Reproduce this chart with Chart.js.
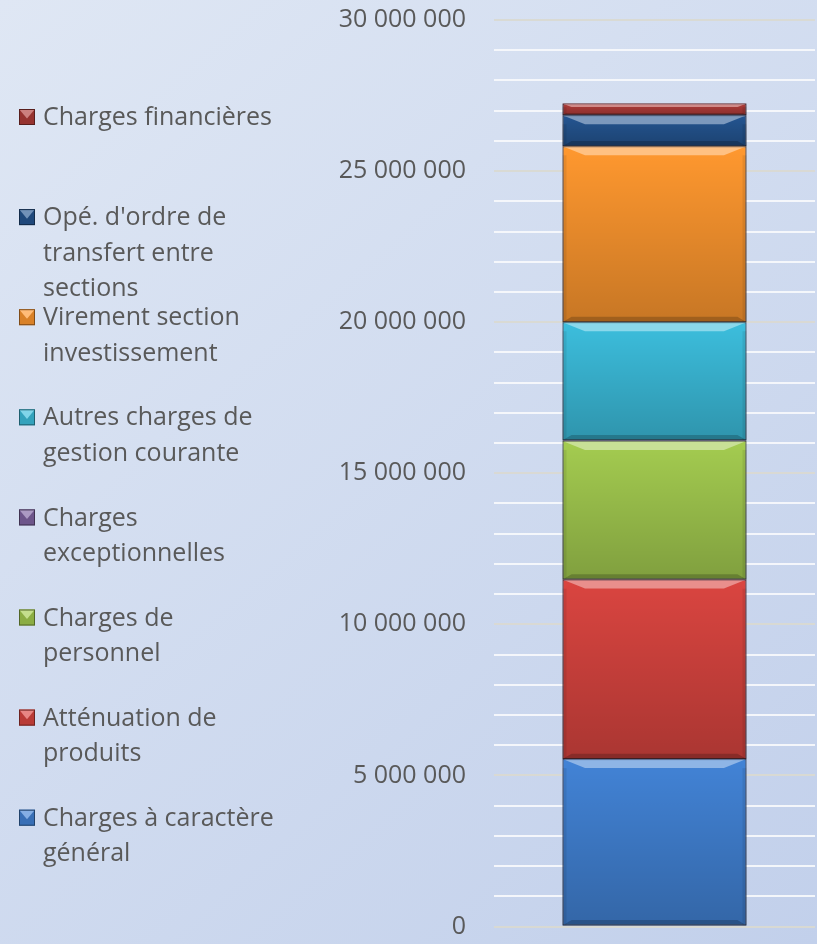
<!DOCTYPE html>
<html>
<head>
<meta charset="utf-8">
<script src="https://cdn.jsdelivr.net/npm/chart.js@4/dist/chart.umd.min.js"></script>
<style>
  html, body { margin: 0; padding: 0; }
  #wrap { width: 817px; height: 944px; position: relative; }
</style>
</head>
<body>
<div id="wrap"><canvas id="chart"></canvas></div>
<script>
// one stacked bar, series from bottom to top
const categories = ['Dépenses'];
const seriesNames = [
  'Charges à caractère général',
  'Atténuation de produits',
  'Charges de personnel',
  'Charges exceptionnelles',
  'Autres charges de gestion courante',
  'Virement section investissement',
  "Opé. d'ordre de transfert entre sections",
  'Charges financières'
];
const seriesValues = [5540000, 5940000, 4590000, 20000, 3910000, 5820000, 1030000, 390000];
const seriesColors = ['#4283d6', '#da4540', '#a4cc50', '#8064a2', '#3cbedd', '#ff982f', '#245591', '#b03c39'];
const legendLines = [
  ['Charges à caractère', 'général'],
  ['Atténuation de', 'produits'],
  ['Charges de', 'personnel'],
  ['Charges', 'exceptionnelles'],
  ['Autres charges de', 'gestion courante'],
  ['Virement section', 'investissement'],
  ["Opé. d'ordre de", 'transfert entre', 'sections'],
  ['Charges financières']
];
const yMax = 30000000;
const yStep = 1000000;
const yLabelStep = 5000000;

const FONT = '"Open Sans", sans-serif';
const TEXT = '#595959';

function fmt(v) {
  return String(v).replace(/\B(?=(\d{3})+(?!\d))/g, ' ');
}

function shade(hex, amt) {
  const n = parseInt(hex.slice(1), 16);
  let r = (n >> 16) & 255, g = (n >> 8) & 255, b = n & 255;
  const f = c => Math.max(0, Math.min(255, Math.round(amt < 0 ? c * (1 + amt) : c + (255 - c) * amt)));
  return 'rgb(' + f(r) + ',' + f(g) + ',' + f(b) + ')';
}

const bgPlugin = {
  id: 'bg',
  beforeDraw(chart) {
    const { ctx, width, height } = chart;
    const g = ctx.createLinearGradient(0, 0, width, height);
    g.addColorStop(0, '#dfe7f4');
    g.addColorStop(1, '#c2d0eb');
    ctx.save();
    ctx.fillStyle = g;
    ctx.fillRect(0, 0, width, height);
    ctx.restore();
  }
};

// bevel look on each bar segment
const bevelPlugin = {
  id: 'bevel',
  afterDatasetsDraw(chart) {
    const ctx = chart.ctx;
    ctx.save();
    chart.data.datasets.forEach((ds, i) => {
      const col = seriesColors[i];
      const meta = chart.getDatasetMeta(i);
      meta.data.forEach(bar => {
        const p = bar.getProps(['x', 'y', 'base', 'width'], true);
        const left = p.x - p.width / 2, right = p.x + p.width / 2;
        const top = Math.min(p.y, p.base), bot = Math.max(p.y, p.base);
        const h = bot - top;
        if (h < 2) return;
        const g = ctx.createLinearGradient(0, top, 0, bot);
        g.addColorStop(0, 'rgba(0,0,0,0)');
        g.addColorStop(1, 'rgba(0,0,0,0.22)');
        ctx.fillStyle = g;
        ctx.fillRect(left, top, p.width, h);
        const b = Math.min(9, h * 0.3);
        // top light strip
        ctx.fillStyle = shade(col, 0.4);
        ctx.beginPath();
        ctx.moveTo(left, top); ctx.lineTo(right, top);
        ctx.lineTo(right - b * 2.5, top + b); ctx.lineTo(left + b * 2.5, top + b);
        ctx.closePath(); ctx.fill();
        // bottom dark strip
        ctx.fillStyle = 'rgba(0,0,0,0.2)';
        ctx.beginPath();
        ctx.moveTo(left, bot); ctx.lineTo(right, bot);
        ctx.lineTo(right - b, bot - b * 0.6); ctx.lineTo(left + b, bot - b * 0.6);
        ctx.closePath(); ctx.fill();
        // side strips
        ctx.fillStyle = 'rgba(0,0,0,0.08)';
        ctx.fillRect(left, top + b, 4, h - b);
        ctx.fillRect(right - 4, top + b, 4, h - b);
        ctx.strokeStyle = 'rgba(40,40,60,0.45)';
        ctx.lineWidth = 1;
        ctx.strokeRect(left + 0.5, top + 0.5, p.width - 1, h - 1);
      });
    });
    ctx.restore();
  }
};

// legend at the left, last series first
const legendPlugin = {
  id: 'sideLegend',
  afterDraw(chart) {
    const ctx = chart.ctx;
    const n = chart.data.datasets.length;
    ctx.save();
    ctx.font = '25px ' + FONT;
    ctx.textBaseline = 'middle';
    ctx.textAlign = 'left';
    for (let k = 0; k < n; k++) {
      const i = n - 1 - k;
      const col = seriesColors[i];
      const cy = 117 + k * 100.1;
      const mx = 19, my = cy - 8, ms = 16;
      ctx.fillStyle = shade(col, -0.15);
      ctx.fillRect(mx, my, ms, ms);
      ctx.fillStyle = shade(col, 0.35);
      ctx.beginPath();
      ctx.moveTo(mx, my); ctx.lineTo(mx + ms, my); ctx.lineTo(mx + ms / 2, my + ms * 0.6);
      ctx.closePath(); ctx.fill();
      ctx.strokeStyle = shade(col, -0.5);
      ctx.lineWidth = 1;
      ctx.strokeRect(mx + 0.5, my + 0.5, ms - 1, ms - 1);
      ctx.fillStyle = TEXT;
      legendLines[i].forEach((line, j) => {
        ctx.fillText(line, 43, cy + 1 + j * 35.5);
      });
    }
    ctx.restore();
  }
};

const datasets = seriesNames.map((name, i) => ({
  label: name,
  data: [seriesValues[i]],
  backgroundColor: seriesColors[i],
  borderColor: shade(seriesColors[i], -0.45),
  borderWidth: 1,
  borderSkipped: false,
  categoryPercentage: 1,
  barPercentage: 0.573
}));

new Chart(document.getElementById('chart'), {
  type: 'bar',
  data: { labels: categories, datasets: datasets },
  options: {
    responsive: true,
    maintainAspectRatio: false,
    animation: false,
    layout: { padding: { top: 0, right: 2, bottom: 0, left: 0 } },
    plugins: {
      legend: { display: false },
      tooltip: { enabled: false }
    },
    scales: {
      x: {
        stacked: true,
        display: false
      },
      y: {
        stacked: true,
        min: 0,
        max: yMax,
        border: { display: false },
        grid: {
          drawTicks: false,
          lineWidth: 2,
          color: c => (c.tick && c.tick.value % yLabelStep === 0) ? 'rgba(217,217,210,0.95)' : 'rgba(248,249,252,0.9)'
        },
        ticks: {
          stepSize: yStep,
          autoSkip: false,
          padding: 28,
          color: TEXT,
          font: { family: FONT, size: 25 },
          callback: v => (v % yLabelStep === 0) ? fmt(v) : ''
        },
        afterFit: scale => {
          scale.width = 494;
          scale.paddingTop = 20;
          scale.paddingBottom = 17.5;
        }
      }
    }
  },
  plugins: [bgPlugin, bevelPlugin, legendPlugin]
});
</script>
</body>
</html>
